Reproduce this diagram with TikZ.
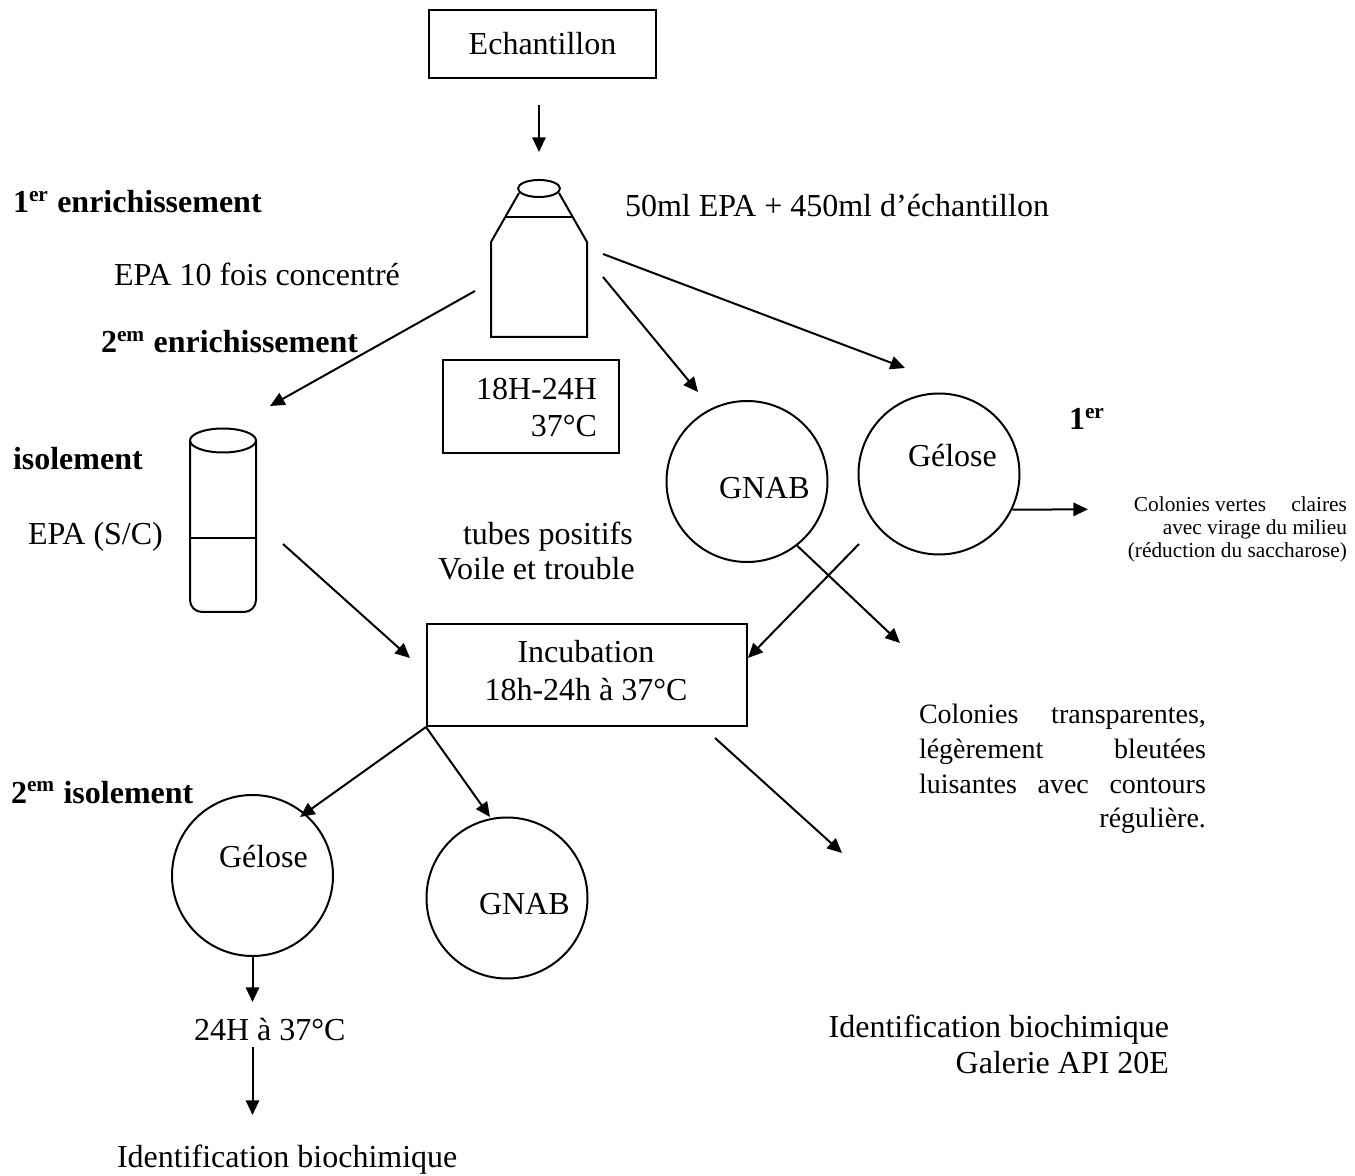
\documentclass[tikz,border=0pt]{standalone}
\usepackage{fontspec}
\setmainfont{Liberation Serif}
\usetikzlibrary{arrows.meta}
\begin{document}
\begin{tikzpicture}[x=0.375pt,y=-0.375pt,line width=0.75pt,
  flow/.style={-{Triangle[length=5.5pt,width=5pt]}},
  lbl/.style={inner sep=0pt,font=\fontsize{12}{14}\selectfont},
  head/.style={inner sep=0pt,font=\fontsize{12}{14}\selectfont\bfseries},
  small/.style={inner sep=0pt,font=\fontsize{8}{9.5}\selectfont},
  note/.style={inner sep=0pt,font=\fontsize{10.5}{13}\selectfont},
  dish/.style={draw,circle,minimum size=60.375pt,inner sep=0pt},
  box/.style={draw,rectangle,inner sep=0pt}]
\useasboundingbox (0,0) rectangle (1355,1176);

% sample
\node[box,font=\fontsize{12}{14}\selectfont,minimum width=85.125pt,minimum height=25.5pt] (ech) at (542.5,44) {Echantillon};

% flask (first enrichment)
\draw (539,188.5) ellipse [x radius=7.875pt,y radius=3.2pt];
\draw (519,193) -- (491,242) -- (491,337) -- (587,337) -- (587,242) -- (559,193);
\draw (506,217) -- (572,217);

% tube (second enrichment)
\draw (223,440.5) ellipse [x radius=12.375pt,y radius=4.5pt];
\draw[rounded corners=4.5pt] (190,441) -- (190,612) -- (256,612) -- (256,441);
\draw (190,538) -- (256,538);

% side headings and labels
\node[head,anchor=base west] (h1) at (12,213) {1\textsuperscript{er} enrichissement};
\node[lbl,anchor=base west] (epa10) at (113,286) {EPA 10 fois concentré};
\node[head,anchor=base west] (h2) at (100,353) {2\textsuperscript{em} enrichissement};
\node[head,anchor=base west] (h3) at (12,470) {isolement};
\node[lbl,anchor=base west] (epasc) at (27,545) {EPA (S/C)};
\node[head,anchor=base west] (h4) at (10,803) {2\textsuperscript{em} isolement};
\node[lbl,anchor=base west] (mix) at (624,217) {50ml EPA + 450ml d’échantillon};

% incubation time of the flask
\node[box,minimum width=66pt,minimum height=34.875pt] (time) at (531,406.5) {};
\node[lbl,anchor=base east] (time1) at (598,400) {18H-24H};
\node[lbl,anchor=base east] (time2) at (598,437) {37°C};

% first isolation plates
\node[dish] (gnab1) at (747,481.5) {};
\node[lbl,anchor=base west] (gnab1t) at (718,499) {GNAB};
\node[dish] (gel1) at (939,474) {};
\node[lbl,anchor=base west] (gel1t) at (907,467) {Gélose};
\node[head,anchor=base west] (h5) at (1068,430) {1\textsuperscript{er}};

% result on agar
\node[small,anchor=base east] (c1) at (1348,512) {\makebox[79.9pt][s]{Colonies vertes\hfill claires}};
\node[small,anchor=base east] (c2) at (1348,535) {avec virage du milieu};
\node[small,anchor=base east] (c3) at (1348,558) {(réduction du saccharose)};

% positive tubes
\node[lbl,anchor=base west] (pos1) at (462,545) {tubes positifs};
\node[lbl,anchor=base west] (pos2) at (437,580) {Voile et trouble};

% incubation
\node[box,minimum width=120pt,minimum height=38.25pt] (incub) at (587,675) {};
\node[lbl,anchor=base] (inc1) at (586,663) {Incubation};
\node[lbl,anchor=base] (inc2) at (586,701) {18h-24h à 37°C};

% result on GNAB
\node[note,anchor=base west] (d1) at (918,723) {\makebox[107.6pt][s]{Colonies transparentes,}};
\node[note,anchor=base west] (d2) at (918,758) {\makebox[107.6pt][s]{légèrement bleutées}};
\node[note,anchor=base west] (d3) at (918,793) {\makebox[107.6pt][s]{luisantes avec contours}};
\node[note,anchor=base west] (d4) at (918,828) {\makebox[107.6pt][r]{régulière.}};

% second isolation plates
\node[dish] (gel2) at (252.5,875.5) {};
\node[lbl,anchor=base west] (gel2t) at (218,868) {Gélose};
\node[dish] (gnab2) at (507,898) {};
\node[lbl,anchor=base west] (gnab2t) at (478,914) {GNAB};

% final steps
\node[lbl,anchor=base west] (cond) at (193,1040) {24H à 37°C};
\node[lbl,anchor=base west] (id1) at (116,1167) {Identification biochimique};
\node[lbl,anchor=base east] (id2) at (1170,1037) {Identification biochimique};
\node[lbl,anchor=base east] (id3) at (1170,1073) {Galerie API 20E};

% connector ends
\coordinate (a1s) at (539,105);   \coordinate (a1e) at (539,152);
\coordinate (a2s) at (475,291);   \coordinate (a2e) at (270,406);
\coordinate (a3s) at (603,277);   \coordinate (a3e) at (698,392);
\coordinate (a4s) at (603,254);   \coordinate (a4e) at (905,368);
\coordinate (a5e) at (1088,509.3);
\coordinate (a6s) at (283,544);   \coordinate (a6e) at (410,658);
\coordinate (a7s) at (859,544);   \coordinate (a7e) at (748,658);
\coordinate (a8e) at (900,643);
\coordinate (a9s) at (715,738);   \coordinate (a9e) at (842,853);
\coordinate (a10e) at (300,817);
\coordinate (a11e) at (490,817);
\coordinate (a12e) at (252.5,1002);
\coordinate (a13s) at (252.5,1047); \coordinate (a13e) at (252.5,1115);

% connectors
\draw[flow] (a1s) -- (a1e);
\draw[flow] (a2s) -- (a2e);
\draw[flow] (a3s) -- (a3e);
\draw[flow] (a4s) -- (a4e);
\draw[flow] (gel1.-26) -- (a5e);
\draw[flow] (a6s) -- (a6e);
\draw[flow] (a7s) -- (a7e);
\draw[flow] (gnab1.-52) -- (a8e);
\draw[flow] (a9s) -- (a9e);
\draw[flow] (incub.south west) -- (a10e);
\draw[flow] (incub.south west) -- (a11e);
\draw[flow] (gel2.south) -- (a12e);
\draw[flow] (a13s) -- (a13e);
\end{tikzpicture}
\end{document}
